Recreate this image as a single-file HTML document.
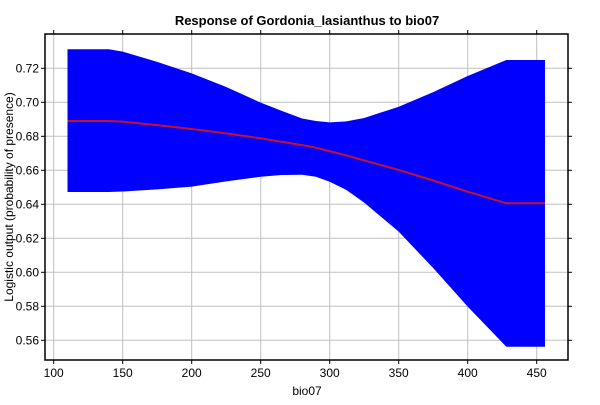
<!DOCTYPE html>
<html><head><meta charset="utf-8"><style>
body{margin:0;background:#fff;font-family:"Liberation Sans",sans-serif;}
svg text{font-family:"Liberation Sans",sans-serif;}
</style></head><body>
<svg id="chart" width="600" height="400" xmlns="http://www.w3.org/2000/svg">
<text x="307" y="25" text-anchor="middle" font-size="13" font-weight="bold">Response of Gordonia_lasianthus to bio07</text>
<text x="307" y="395" text-anchor="middle" font-size="12">bio07</text>
<text transform="translate(13,197) rotate(-90)" text-anchor="middle" font-size="12">Logistic output (probability of presence)</text>
<g id="grid"></g><g id="marks"></g><g id="axes"></g>
</svg>
<script>
const xs = [110, 140, 150, 175, 200, 225, 250, 265, 280, 290, 300, 312, 325, 350, 375, 400, 428, 456];
const upper = [0.7312, 0.7312, 0.7298, 0.7238, 0.717, 0.709, 0.6998, 0.695, 0.6905, 0.689, 0.6882, 0.6888, 0.6908, 0.6974, 0.706, 0.7155, 0.7249, 0.7249];
const lower = [0.6472, 0.6472, 0.6475, 0.6488, 0.6504, 0.6535, 0.6562, 0.6572, 0.6574, 0.6562, 0.6533, 0.6485, 0.641, 0.6239, 0.6025, 0.5798, 0.5562, 0.5562];
const mean = [0.689, 0.689, 0.6886, 0.6866, 0.6843, 0.6817, 0.6788, 0.6768, 0.6748, 0.6733, 0.6712, 0.6688, 0.6658, 0.6602, 0.654, 0.6474, 0.6406, 0.6406];
const xTicks = [100, 150, 200, 250, 300, 350, 400, 450];
const yTicks = [0.56, 0.58, 0.60, 0.62, 0.64, 0.66, 0.68, 0.70, 0.72];
const L=45,R=568,T=34,B=360;
const X=v=>53.7+(v-100)*1.38;
const Y=v=>68.3+(0.72-v)*1700;
const NS='http://www.w3.org/2000/svg';
function mk(tag,attrs,parent){const e=document.createElementNS(NS,tag);for(const k in attrs)e.setAttribute(k,attrs[k]);parent.appendChild(e);return e;}
const grid=document.getElementById('grid'),marks=document.getElementById('marks'),axes=document.getElementById('axes');
xTicks.forEach(t=>{
  const g=mk('line',{x1:X(t),x2:X(t),y1:T,y2:B,stroke:'#c0c0c0','stroke-width':1},grid);
  
  
  const tk=mk('line',{x1:X(t),x2:X(t),y1:B,y2:B+4,stroke:'#000'},axes);
  
  
  const tx=mk('text',{x:X(t),y:B+17,'text-anchor':'middle','font-size':12},axes);tx.textContent=t;
  
  
});
yTicks.forEach(t=>{
  const g=mk('line',{x1:L,x2:R,y1:Y(t),y2:Y(t),stroke:'#c0c0c0','stroke-width':1},grid);
  
  
  const tk=mk('line',{x1:L-4,x2:L,y1:Y(t),y2:Y(t),stroke:'#000'},axes);
  
  
  const tk2=mk('line',{x1:R,x2:R+4,y1:Y(t),y2:Y(t),stroke:'#000'},axes);
  
  
  const tx=mk('text',{x:L-6,y:Y(t)+4,'text-anchor':'end','font-size':12},axes);tx.textContent=t.toFixed(2);
  
  
});
xTicks.forEach(t=>{const tk=mk('line',{x1:X(t),x2:X(t),y1:T-4,y2:T,stroke:'#000'},axes);
  
  });
let d='M'+xs.map((x,i)=>X(x)+','+Y(upper[i])).join('L');
for(let i=xs.length-1;i>=0;i--)d+='L'+X(xs[i])+','+Y(lower[i]);
const band=mk('path',{d:d+'Z',fill:'#0000ff','stroke-linejoin':'round'},marks);


const ln=mk('polyline',{points:xs.map((x,i)=>X(x)+','+Y(mean[i])).join(' '),fill:'none',stroke:'#c8102e','stroke-width':2},marks);


const fr=mk('rect',{x:L,y:T,width:R-L,height:B-T,fill:'none',stroke:'#000','stroke-width':1.5},axes);


</script>
</body></html>
